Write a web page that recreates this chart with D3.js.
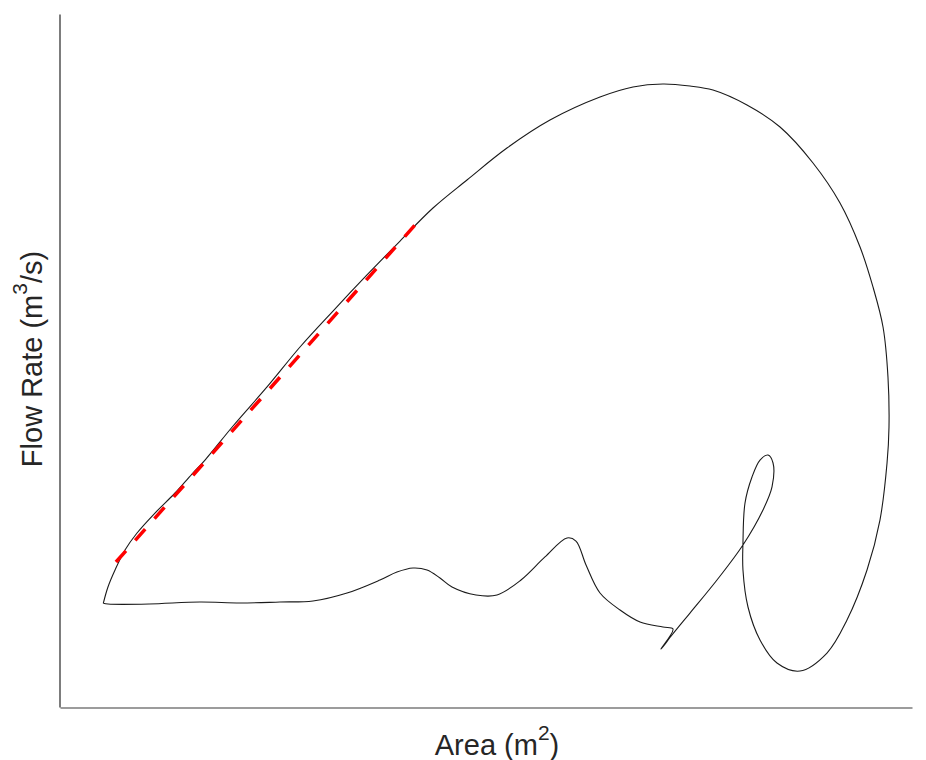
<!DOCTYPE html>
<html>
<head>
<meta charset="utf-8">
<script src="https://cdn.jsdelivr.net/npm/d3@7"></script>
<style>
  html, body { margin: 0; padding: 0; background: #fff; }
  svg { display: block; }
  text { font-family: "Liberation Sans", Arial, Helvetica, sans-serif; fill: #262626; }
</style>
</head>
<body>
<svg id="chart" width="926" height="760"></svg>
<script>
// Hysteresis loop: area (x) vs flow rate (y), arbitrary units (no ticks on the original)
const areaValues = [0.508,0.563,0.646,0.763,0.904,1.115,1.350,1.549,1.702,2.031,2.430,2.817,3.204,3.603,3.991,4.378,4.777,5.246,5.751,6.338,6.725,7.077,7.394,7.664,8.063,8.451,8.838,9.155,9.390,9.542,9.660,9.718,9.730,9.707,9.624,9.472,9.237,9.002,8.685,8.415,8.216,8.075,8.016,8.016,8.040,8.122,8.216,8.310,8.369,8.357,8.251,8.016,7.711,7.394,7.183,7.054,7.195,7.077,6.808,6.573,6.338,6.174,6.056,5.951,5.692,5.411,5.129,4.883,4.601,4.460,4.308,4.143,3.955,3.756,3.369,2.969,2.582,2.113,1.643,1.045,0.563,0.508];
const flowValues = [1.496,1.732,1.977,2.266,2.511,2.799,3.088,3.362,3.564,4.055,4.618,5.195,5.714,6.234,6.724,7.201,7.605,8.066,8.470,8.802,8.947,8.990,8.961,8.903,8.687,8.369,7.850,7.273,6.638,6.061,5.483,4.762,4.040,3.521,2.698,1.977,1.255,0.779,0.519,0.635,0.967,1.443,1.977,2.367,2.944,3.319,3.564,3.636,3.521,3.175,2.843,2.338,1.833,1.356,1.039,0.837,1.126,1.154,1.227,1.400,1.645,2.049,2.395,2.439,2.165,1.833,1.616,1.616,1.732,1.861,1.977,2.006,1.948,1.833,1.645,1.530,1.515,1.501,1.515,1.486,1.486,1.496];
// Linear fit line (red dashed) endpoints
const fitArea = [0.657, 4.167];
const fitFlow = [2.092, 6.955];
const xDomain = [0, 10];
const yDomain = [0, 10];
const xLabel = "Area (m";
const xLabelSup = "2";
const yLabel = "Flow Rate (m";
const yLabelSup = "3";
const yLabelTail = "/s)";

const svg = d3.select("#chart");
const mLeft = 60, mRight = 912, mTop = 14, mBottom = 707;

const x = d3.scaleLinear().domain(xDomain).range([mLeft, mRight]);
const y = d3.scaleLinear().domain(yDomain).range([mBottom, mTop]);

// Axes (no ticks)
svg.append("g")
  .attr("transform", `translate(0,${mBottom + 0.5})`)
  .call(d3.axisBottom(x).tickValues([]).tickSizeOuter(0))
  .call(g => g.select(".domain").attr("stroke", "#3a3a3a").attr("stroke-width", 1.2));
svg.append("g")
  .attr("transform", `translate(${mLeft - 0.5},0)`)
  .call(d3.axisLeft(y).tickValues([]).tickSizeOuter(0))
  .call(g => g.select(".domain").attr("stroke", "#262626").attr("stroke-width", 1.2));

const loop = areaValues.map((a, i) => [a, flowValues[i]]);
const line = d3.line().x(d => x(d[0])).y(d => y(d[1])).curve(d3.curveCatmullRom.alpha(0.5));

svg.append("path")
  .datum(loop)
  .attr("d", line)
  .attr("fill", "none")
  .attr("stroke", "#1a1a1a")
  .attr("stroke-width", 1.1);

const fit = fitArea.map((a, i) => [a, fitFlow[i]]);
svg.append("path")
  .datum(fit)
  .attr("d", d3.line().x(d => x(d[0])).y(d => y(d[1])))
  .attr("fill", "none")
  .attr("stroke", "#ff0000")
  .attr("stroke-width", 3.5)
  .attr("stroke-dasharray", "15,14");

// Axis labels
const xl = svg.append("text")
  .attr("x", 497).attr("y", 755)
  .attr("text-anchor", "middle")
  .style("font-size", "29px");
xl.append("tspan").text(xLabel);
xl.append("tspan").attr("dy", -15).style("font-size", "21px").text(xLabelSup);
xl.append("tspan").attr("dy", 15).text(")");

const yl = svg.append("text")
  .attr("transform", `translate(42,${359}) rotate(-90)`)
  .attr("text-anchor", "middle")
  .style("font-size", "29px");
yl.append("tspan").text(yLabel);
yl.append("tspan").attr("dy", -15).style("font-size", "21px").text(yLabelSup);
yl.append("tspan").attr("dy", 15).text(yLabelTail);
</script>
</body>
</html>
